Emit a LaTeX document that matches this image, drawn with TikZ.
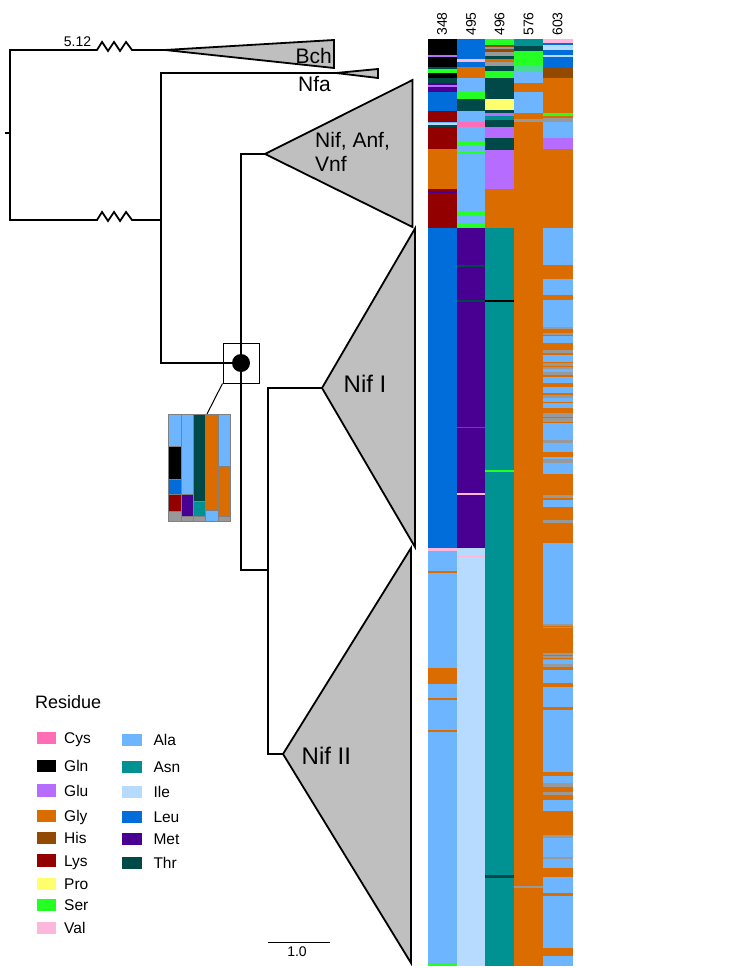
\documentclass[tikz,border=0pt]{standalone}
\usepackage{fontspec}
\setmainfont{Liberation Sans}
\definecolor{Cys}{HTML}{FF6DB6}
\definecolor{Gln}{HTML}{000000}
\definecolor{Glu}{HTML}{B66DFF}
\definecolor{Gly}{HTML}{DB6D00}
\definecolor{His}{HTML}{924900}
\definecolor{Lys}{HTML}{920000}
\definecolor{Pro}{HTML}{FFFF6D}
\definecolor{Ser}{HTML}{24FF24}
\definecolor{Val}{HTML}{FFB6DB}
\definecolor{Ala}{HTML}{6DB6FF}
\definecolor{Asn}{HTML}{009292}
\definecolor{Ile}{HTML}{B6DBFF}
\definecolor{Leu}{HTML}{006DDB}
\definecolor{Met}{HTML}{490092}
\definecolor{Thr}{HTML}{004949}
\definecolor{gap}{HTML}{999999}
\begin{document}
\begin{tikzpicture}[x=1pt,y=-1pt,every node/.style={inner sep=0pt},
	br/.style={line width=1.8pt},
	clade/.style={draw,line width=1.8pt,fill=gray!50},
	clab/.style={font=\fontsize{21}{23.5}\selectfont},
	nlab/.style={font=\fontsize{24}{28}\selectfont},
	num/.style={font=\fontsize{14}{16}\selectfont},
	leg/.style={font=\fontsize{15.5}{18}\selectfont}]
	\useasboundingbox (0,0) rectangle (748,968);
	\coordinate (root) at (10,133);
	\coordinate (bch) at (165,50);
	\coordinate (a1) at (161,220);
	\coordinate (nfa) at (336,73);
	\coordinate (a2) at (241,363);
	\coordinate (nav) at (265,154);
	\coordinate (a3) at (268,570);
	\coordinate (nif1) at (322,388);
	\coordinate (nif2) at (283,754);
	\draw[br] (root) -- ++(-5,0);
	\draw[br] (bch) -- (132,50) -- ++(-6,-8) -- ++(-6,9) -- ++(-6,-9) -- ++(-6,9) -- ++(-6,-9) -- ++(-5,8) -| (root |- a1) -- (97,220) -- ++(5,-8) -- ++(6,9) -- ++(6,-9) -- ++(6,9) -- ++(6,-9) -- ++(6,8) -- (a1);
	\draw[br] (nfa) -| (a1 |- a2) -- (a2);
	\draw[br] (nav) -| (a2 |- a3) -- (a3);
	\draw[br] (nif1) -| (a3 |- nif2) -- (nif2);
	\draw[clade] (bch) -- (334,40) -- (334,68) -- cycle;
	\draw[clade] (nfa) -- (378,69) -- (378,78) -- cycle;
	\draw[clade] (nav) -- (412.5,80) -- (412.5,227) -- cycle;
	\draw[clade] (nif1) -- (415,228.5) -- (415,547) -- cycle;
	\draw[clade] (nif2) -- (411,548) -- (411,963) -- cycle;
	\node[num] (blen) at (77.5,41.7) {5.12};
	\node[clab,anchor=base east] (lbch) at (332,63.5) {Bch};
	\node[clab,anchor=base west] (lnfa) at (298,91.5) {Nfa};
	\node[clab,anchor=north west,align=left] (lnav) at (315,132.5) {Nif, Anf,\\Vnf};
	\node[nlab,anchor=base west] (lnif1) at (343.5,392.5) {Nif I};
	\node[nlab,anchor=base west] (lnif2) at (301.5,764) {Nif II};
	\node[draw,line width=1pt,minimum width=36pt,minimum height=40pt] (box) at (a2) {};
	\node[circle,fill,minimum size=18pt] (anc) at (a2) {};
	\coordinate (inset) at (207,414);
	\draw[line width=1pt] (box.south west) -- (inset);
	\foreach \a/\b/\c in {414/446/Ala,446/479/Gln,479/494/Leu,494/511/Lys,511/521/gap}
		\filldraw[fill=\c,draw=gray,line width=0.4pt] (168.3,\a) rectangle (180.7,\b);
	\foreach \a/\b/\c in {414/494/Ala,494/516/Met,516/521/gap}
		\filldraw[fill=\c,draw=gray,line width=0.4pt] (180.7,\a) rectangle (193,\b);
	\foreach \a/\b/\c in {414/500.7/Thr,500.7/516/Asn,516/521/gap}
		\filldraw[fill=\c,draw=gray,line width=0.4pt] (193,\a) rectangle (205.3,\b);
	\foreach \a/\b/\c in {414/510/Gly,510/521/Ala}
		\filldraw[fill=\c,draw=gray,line width=0.4pt] (205.3,\a) rectangle (217.7,\b);
	\foreach \a/\b/\c in {414/466/Ala,466/516/Gly,516/521/gap}
		\filldraw[fill=\c,draw=gray,line width=0.4pt] (217.7,\a) rectangle (230,\b);
	\foreach \a/\b/\c in {39.3/55/Gln,55/57.3/Glu,57.3/66.7/Gln,66.7/69.3/Thr,69.3/73.3/Ser,73.3/78.3/Gln,78.3/83.3/Thr,83.3/85/Met,85/87.3/Glu,87.3/92/Met,92/110.7/Leu,110.7/121.7/Lys,121.7/123.5/Ala,123.5/125/Ile,125/126.7/Thr,126.7/149.3/Lys,149.3/189.3/Gly,189.3/227.7/Lys,191/193.5/Met,227.7/548.3/Leu,548.3/550.5/Val,550.5/966/Ala,571/573/Gly,668.3/684/Gly,697.5/699.5/Gly,730/732/Gly,962.5/966/Ser}
		\fill[\c] (427.5,\a) rectangle (457,\b);
	\foreach \a/\b/\c in {39.3/59.3/Leu,59.3/61.7/Val,61.7/66.7/Leu,66.7/78.3/Gly,78.3/91.7/Ala,91.7/99.3/Ser,99.3/110.7/Thr,110.7/121.7/Ala,121.7/126.7/Cys,126.7/141.7/Ala,141.7/145.7/Ser,145.7/151.7/Ala,151.7/154/Ser,154/211.7/Ala,211.7/216/Ser,216/223.3/Ala,223.3/227.7/Ser,227.7/548.3/Met,265/267/Thr,300/302/Thr,426.5/428/Leu,493.3/495/Val,548.3/966/Ile,555.5/557/Val}
		\fill[\c] (457,\a) rectangle (484.5,\b);
	\foreach \a/\b/\c in {39.3/45/Ser,45/47.3/His,47.3/49.3/gap,49.3/51.7/His,51.7/56/gap,56/59.3/Thr,59.3/62/Gly,62/66/gap,66/70.7/Thr,70.7/78.3/Ser,78.3/99.3/Thr,99.3/110/Pro,110/112.7/Thr,112.7/116/Glu,116/120/Asn,120/126.7/Thr,126.7/138.3/Glu,138.3/150/Thr,150/189.3/Glu,189.3/227.7/Gly,227.7/966/Asn,299.5/301.5/Gln,470/472/Ser,875/877.5/Thr}
		\fill[\c] (484.5,\a) rectangle (514,\b);
	\foreach \a/\b/\c in {39.3/46/Asn,46/50.7/Thr,50.7/66/Ser,66/71.7/Ser!50!Ala,71.7/82.7/Ala,82.7/91.7/Gly,91.7/112.7/Ala,112.7/119.3/Gly,119.3/121.7/gap,121.7/966/Gly,885.5/887.5/gap}
		\fill[\c] (514,\a) rectangle (543,\b);
	\foreach \a/\b/\c in {39.3/42.7/Val,42.7/45/Leu,45/50/Ile,50/55/Leu,55/57.3/Ile,57.3/66.7/Leu,66.7/78.3/His,78.3/112.7/Gly,112.7/116/Ser,116/118.3/Gly,118.3/121.7/gap,121.7/138.3/Ala,138.3/149.3/Glu,149.3/966/Gly}
		\fill[\c] (543,\a) rectangle (572.5,\b);
	\foreach \a/\b in {228.3/265,279.3/295,300/326.7,336/343.3,355/361.7,368.3/371.7,376.7/383.3,386.7/393.3,396.7/401.7,403.3/408.3,423.3/440,443.3/451.7,456.7/460.7,463.3/474,500/506.7,543.3/624,660/664,670/683.3,686.7/706.7,710/771.7,776/783.3,800/810.7,838.3/856.7,859.3/868.3,877.3/893.3,896/948.3,956/966}
		\fill[Ala] (543,\a) rectangle (572.5,\b);
	\foreach \a/\b in {326.7/329.3,332.7/335,350/353.3,363.3/366,366.7/369.3,371.7/375,395/398.3,413.3/416.7,418.3/421.7,440/442.7,459.3/462.7,495/498.3,520/523.3,624/625.5,626.8/628.3,653.3/654.8,656/657.5,658.5/660,664/667.3,783.3/786.7,791.7/795,835/838.3,856.7/859.3}
		\fill[gap] (543,\a) rectangle (572.5,\b);
	\foreach \n/\x in {348/442,495/471,496/499.5,576/528.5,603/557.5}
		\node[num,rotate=90] (h\n) at (\x,24) {\n};
	\node[font=\fontsize{18}{20}\selectfont,anchor=base west] (res) at (35,708) {Residue};
	\foreach \r/\y in {Cys/738,Gln/766,Glu/790.5,Gly/816,His/838,Lys/860.5,Pro/884,Ser/905,Val/928}{
		\fill[\r] (36.5,\y-6.3) rectangle (56,\y+6.3);
		\node[leg,anchor=base west] (l\r) at (64,\y+5.5) {\r};}
	\foreach \r/\y in {Ala/740,Asn/767,Ile/792,Leu/817,Met/839,Thr/863}{
		\fill[\r] (121.7,\y-6.3) rectangle (141.7,\y+6.3);
		\node[leg,anchor=base west] (l\r) at (153.3,\y+5.5) {\r};}
	\coordinate (sb0) at (268,942.5);
	\coordinate (sb1) at (330,942.5);
	\draw[line width=1.2pt] (sb0) -- (sb1);
	\node[font=\fontsize{14}{16}\selectfont] (sbl) at (297,951.5) {1.0};
\end{tikzpicture}
\end{document}
